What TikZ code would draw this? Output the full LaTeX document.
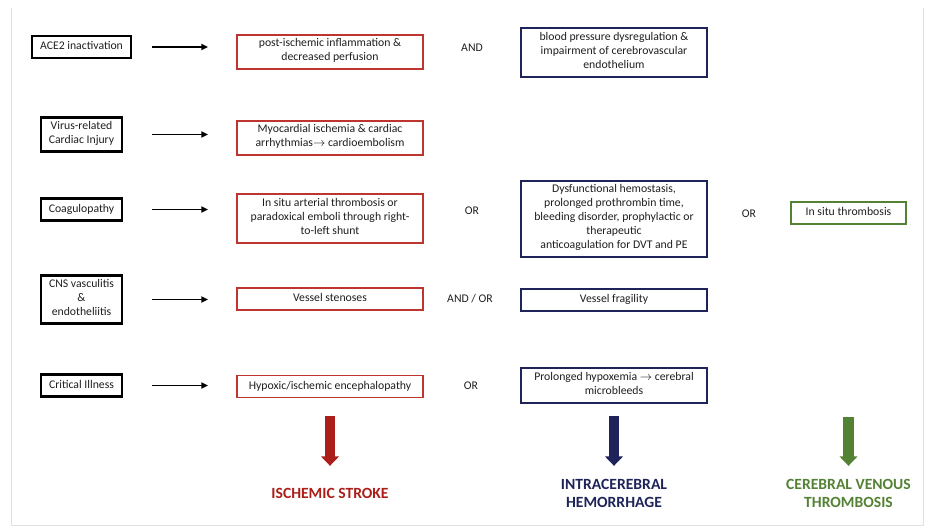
\documentclass[tikz,border=0pt]{standalone}
\usepackage{fontspec}
\setmainfont{Carlito}
\usetikzlibrary{arrows.meta}
\definecolor{boxred}{RGB}{190,52,46}
\definecolor{strokered}{RGB}{172,30,26}
\definecolor{navy}{RGB}{30,36,90}
\definecolor{leafgreen}{RGB}{84,130,53}
\definecolor{inkgray}{RGB}{30,30,30}
\tikzset{every picture/.style={line width=0.75pt}}

\begin{document}
\begin{tikzpicture}[x=0.75pt,y=0.75pt,yscale=-1,xscale=1,
  box/.style={draw, align=center, font=\fontsize{8.8}{10.5}\selectfont, text=inkgray, inner xsep=3pt, inner ysep=3pt, execute at begin node=\strut, execute at end node=\strut},
  cause/.style={box, line width=1.9pt, draw=black, minimum width=60.75pt},
  isbox/.style={box, line width=1.3pt, draw=boxred, minimum width=139.5pt},
  ichbox/.style={box, line width=1.3pt, draw=navy, minimum width=139.5pt},
  cvtbox/.style={box, line width=1.3pt, draw=leafgreen, minimum width=86.25pt},
  joiner/.style={font=\fontsize{8.8}{10.5}\selectfont, text=inkgray, inner sep=0.75pt},
  link/.style={-{Triangle[length=5pt,width=4.5pt]}, line width=1.2pt, shorten <=21.75pt, shorten >=21pt},
  bigarrow/.style={-{Triangle[length=7pt,width=13pt]}, line width=8pt},
  outcome/.style={font=\fontsize{11.7}{13.5}\selectfont\bfseries, align=center, inner sep=0pt}]
\useasboundingbox (0,0) rectangle (932,527);

%Shape: Frame
\draw [color=black!12, line width=0.75pt] (11,8) -- (11,525) -- (923,525) -- (923,8) ;

% Causes
\node [cause, minimum width=74.25pt] (ace) at (81.5,47) {ACE2 inactivation};
\node [cause] (virus) at (81.5,134.5) {Virus-related\\Cardiac Injury};
\node [cause] (coag) at (81.5,209.5) {Coagulopathy};
\node [cause] (cns) at (81.5,299.5) {CNS vasculitis\\\&\\endotheliitis};
\node [cause] (crit) at (81.5,385.5) {Critical Illness};

% Ischemic stroke column
\node [isbox] (inflam) at (330,52) {post-ischemic inflammation \&\\decreased perfusion};
\node [isbox] (cardio) at (330,138) {Myocardial ischemia \& cardiac\\arrhythmias$\rightarrow$ cardioembolism};
\node [isbox] (arterial) at (330,218.5) {In situ arterial thrombosis or\\paradoxical emboli through right-\\to-left shunt};
\node [isbox] (stenoses) at (330,299) {Vessel stenoses};
\node [isbox] (hypoxic) at (330,386.5) {Hypoxic/ischemic encephalopathy};

% Intracerebral hemorrhage column
\node [ichbox] (bp) at (614,52.5) {blood pressure dysregulation \&\\impairment of cerebrovascular\\endothelium};
\node [ichbox] (hemostasis) at (614,219) {Dysfunctional hemostasis,\\prolonged prothrombin time,\\bleeding disorder, prophylactic or\\therapeutic\\anticoagulation for DVT and PE};
\node [ichbox] (fragility) at (614,300) {Vessel fragility};
\node [ichbox] (microbleeds) at (614,385.5) {Prolonged hypoxemia $\rightarrow$ cerebral\\microbleeds};

% Cerebral venous thrombosis column
\node [cvtbox] (insitu) at (848.5,213) {In situ thrombosis};

% Text Node
\node [joiner] (and1) at (472,48) {AND};
\node [joiner] (or3) at (472,211) {OR};
\node [joiner] (or3b) at (749,214) {OR};
\node [joiner] (andor4) at (470,299) {AND / OR};
\node [joiner] (or5) at (471,386) {OR};

% Outcomes
\node [outcome, text=strokered] (stroke) at (330,493.5) {ISCHEMIC STROKE};
\node [outcome, text=navy] (ich) at (614,493.5) {INTRACEREBRAL\\HEMORRHAGE};
\node [outcome, text=leafgreen] (cvt) at (848.5,493.5) {CEREBRAL VENOUS\\THROMBOSIS};

%Straight Lines
\draw [link, shorten <=15pt] (ace.east) -- (ace.east -| inflam.west) ;
\draw [link] (virus.east) -- (virus.east -| cardio.west) ;
\draw [link] (coag.east) -- (coag.east -| arterial.west) ;
\draw [link] (cns.east) -- (cns.east -| stenoses.west) ;
\draw [link] (crit.east) -- (crit.east -| hypoxic.west) ;

%Block Arrows
\draw [bigarrow, strokered, shorten <=13.5pt, shorten >=16.5pt] (hypoxic.south) -- (stroke.north) ;
\draw [bigarrow, navy, shorten <=9pt, shorten >=9.75pt] (microbleeds.south) -- (ich.north) ;
\draw [bigarrow, leafgreen, shorten <=144pt, shorten >=9.75pt] (insitu.south) -- (cvt.north) ;

\end{tikzpicture}
\end{document}
